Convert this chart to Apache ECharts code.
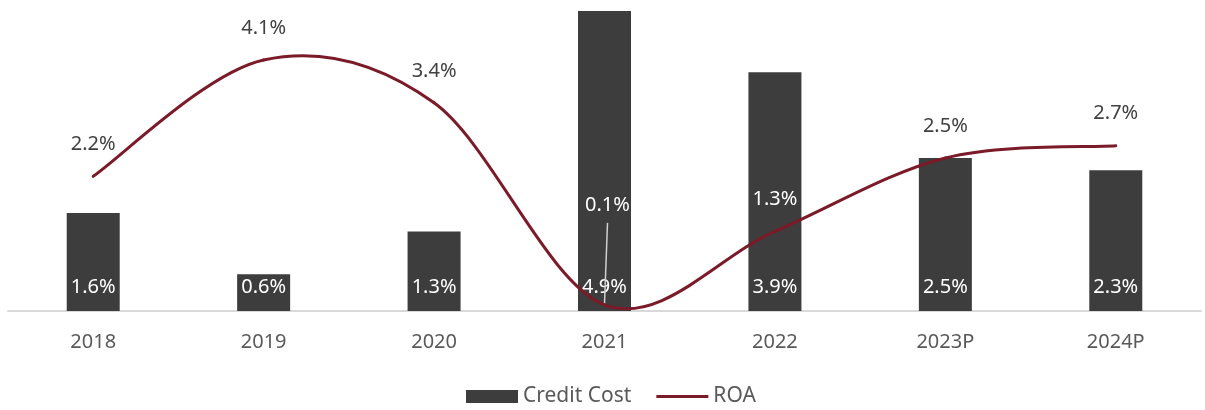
<!DOCTYPE html>
<html>
<head>
<meta charset="utf-8">
<style>
  html, body { margin: 0; padding: 0; background: #fff; }
  #chart { width: 1205px; height: 410px; }
</style>
<script src="https://cdn.jsdelivr.net/npm/echarts@6/dist/echarts.min.js"></script>
</head>
<body>
<div id="chart"></div>
<script>
// Credit cost vs. return on assets, in percent
const years = ['2018', '2019', '2020', '2021', '2022', '2023P', '2024P'];
const creditCost = [1.6, 0.6, 1.3, 4.9, 3.9, 2.5, 2.3];
const roa = [2.2, 4.1, 3.4, 0.1, 1.3, 2.5, 2.7];

const FONT = '"Noto Sans", "Open Sans", sans-serif';
const LINE_COLOR = '#7b1a28';
const LIFTED = 3; // ROA label lifted above its bar, joined by a leader line
const LIFT = 68;
const pct = p => Number(Array.isArray(p.value) ? p.value[1] : p.value).toFixed(1) + '%';

// ROA labels that sit over a dark bar are drawn in white
const roaData = roa.map((v, i) => {
  const onBar = i === 3 || i === 4;
  return onBar ? { value: v, label: { color: '#ffffff' } } : v;
});

// Smoothed ROA curve: Catmull-Rom segments through the axis-mapped points
function renderRoaCurve(params, api) {
  if (params.dataIndex !== 0) return null;
  const pts = roa.map((v, i) => api.coord([i, v]));
  const n = pts.length;
  const children = [];
  // leader from the lifted label down to its point
  const a = pts[LIFTED];
  children.push({
    type: 'line',
    shape: { x1: a[0], y1: a[1] - 1, x2: a[0] + 3, y2: a[1] - LIFT - 14 },
    style: { stroke: '#cfcfcf', lineWidth: 1.5 },
    z2: 0
  });
  for (let i = 0; i < n - 1; i++) {
    const p0 = pts[Math.max(i - 1, 0)];
    const p1 = pts[i];
    const p2 = pts[i + 1];
    const p3 = pts[Math.min(i + 2, n - 1)];
    children.push({
      type: 'bezierCurve',
      shape: {
        x1: p1[0], y1: p1[1],
        cpx1: p1[0] + (p2[0] - p0[0]) / 6, cpy1: p1[1] + (p2[1] - p0[1]) / 6,
        cpx2: p2[0] - (p3[0] - p1[0]) / 6, cpy2: p2[1] - (p3[1] - p1[1]) / 6,
        x2: p2[0], y2: p2[1]
      },
      style: { stroke: LINE_COLOR, lineWidth: 3, fill: null, lineCap: 'round' },
      z2: 1
    });
  }
  return { type: 'group', children };
}

const chart = echarts.init(document.getElementById('chart'), null, { renderer: 'canvas' });
chart.setOption({
  animation: false,
  textStyle: { fontFamily: FONT },
  grid: { left: 8, right: 4, top: 11, bottom: 99, containLabel: false },
  legend: {
    bottom: -2,
    left: 461,
    itemGap: 25,
    itemWidth: 52,
    itemHeight: 13,
    textStyle: { fontFamily: FONT, fontSize: 21, color: '#595959' },
    data: [
      { name: 'Credit Cost', icon: 'rect' },
      { name: 'ROA', icon: 'path://M0 0H52V3H0Z', itemStyle: { color: LINE_COLOR } }
    ]
  },
  xAxis: {
    type: 'category',
    data: years,
    axisTick: { show: false },
    axisLine: { lineStyle: { color: '#d9d9d9', width: 2 } },
    axisLabel: { fontFamily: FONT, fontSize: 20, color: '#595959', margin: 21 }
  },
  yAxis: {
    type: 'value',
    min: 0,
    max: 4.9,
    show: false,
    splitLine: { show: false }
  },
  series: [
    {
      name: 'Credit Cost',
      type: 'bar',
      data: creditCost,
      barWidth: 53,
      itemStyle: { color: '#3d3d3d' },
      label: {
        show: true,
        position: 'insideBottom',
        distance: 14,
        formatter: pct,
        fontFamily: FONT,
        fontSize: 20,
        color: '#ffffff'
      },
      z: 2
    },
    {
      name: 'ROA',
      type: 'custom',
      data: roa.map((v, i) => [i, v]),
      encode: { x: 0, y: 1 },
      itemStyle: { color: LINE_COLOR },
      renderItem: renderRoaCurve,
      z: 3
    },
    {
      name: 'ROA values',
      type: 'line',
      data: roaData,
      symbol: 'circle',
      symbolSize: 0,
      lineStyle: { opacity: 0, width: 0 },
      itemStyle: { color: LINE_COLOR },
      label: {
        show: true,
        position: 'top',
        distance: 22,
        formatter: pct,
        fontFamily: FONT,
        fontSize: 20,
        color: '#404040'
      },
      labelLayout: p => (p.dataIndex === LIFTED ? { dx: 3, dy: -LIFT } : {}),
      z: 4
    }
  ]
});
</script>
</body>
</html>
